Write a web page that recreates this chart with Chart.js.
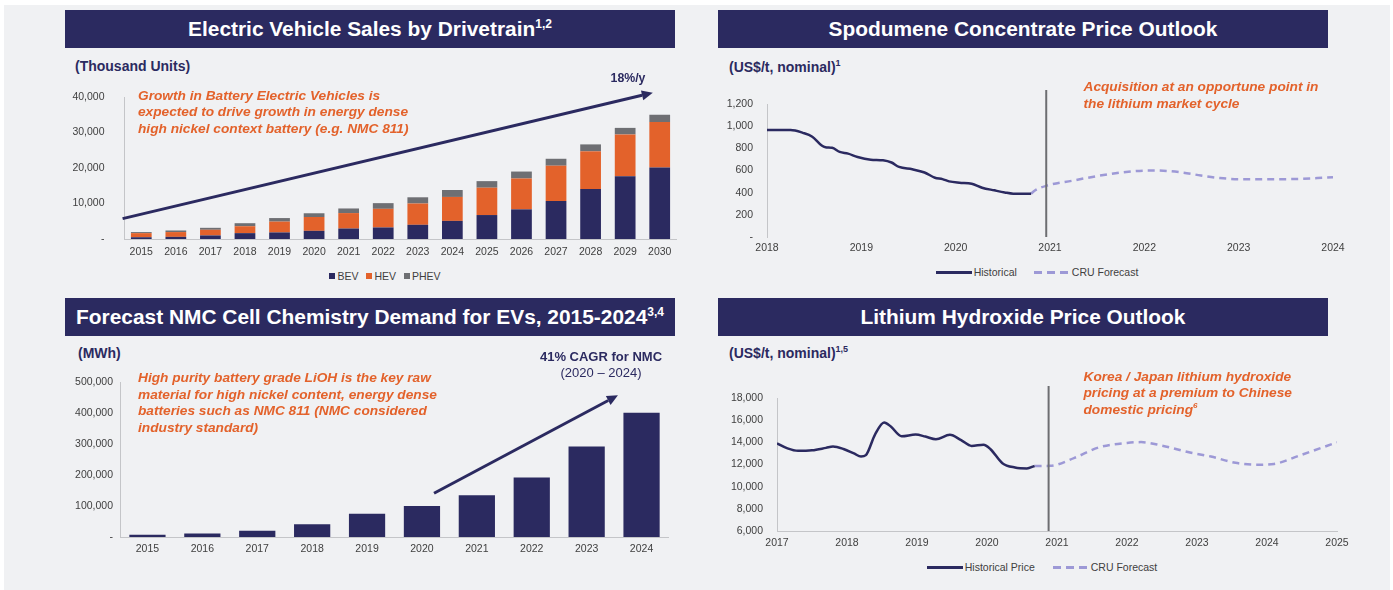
<!DOCTYPE html>
<html>
<head>
<meta charset="utf-8">
<script src="https://cdn.jsdelivr.net/npm/chart.js@4.4.1/dist/chart.umd.min.js"></script>
<style>
  body { margin: 0; width: 1393px; height: 590px; background: #fff; position: relative; overflow: hidden;
         font-family: "Liberation Sans", Arial, sans-serif; }
  #page { position: absolute; left: 4px; top: 5px; width: 1386px; height: 585px; background: #f0f1f3; }
  .bar { position: absolute; width: 610px; height: 38px; line-height: 38px; background: #2b2a60; color: #fff;
         font-weight: bold; font-size: 20.9px; text-align: center; white-space: nowrap; }
  .bar sup { font-size: 12px; line-height: 0; vertical-align: 8px; }
  .unit { position: absolute; font-weight: bold; font-size: 14px; color: #2b2a60; line-height: 16px; white-space: nowrap; }
  .unit sup { font-size: 9px; line-height: 0; vertical-align: 6px; }
  .note { position: absolute; font-weight: bold; font-style: italic; font-size: 13.7px; color: #e3622b;
          line-height: 16.5px; white-space: nowrap; }
  .note sup { font-size: 8px; line-height: 0; vertical-align: 6px; }
  .box { position: absolute; }
  .tag { position: absolute; color: #2b2a60; font-size: 13px; line-height: 16px; text-align: center; white-space: nowrap; }
  .legend { position: absolute; height: 14px; display: flex; align-items: center; justify-content: center;
            font-size: 10.5px; color: #404040; white-space: nowrap; }
  .legend .item { display: flex; align-items: center; }
  .legend .sq { width: 6px; height: 6px; margin-right: 2px; }
  .legend .ln { width: 36px; height: 2.5px; margin-right: 2px; }
</style>
</head>
<body>
<div id="page"></div>

<div class="bar" style="left:65px;top:9.5px">Electric Vehicle Sales by Drivetrain<sup>1,2</sup></div>
<div class="bar" style="left:718px;top:9.5px">Spodumene Concentrate Price Outlook</div>
<div class="bar" style="left:65px;top:297.5px">Forecast NMC Cell Chemistry Demand for EVs, 2015-2024<sup>3,4</sup></div>
<div class="bar" style="left:718px;top:297.5px">Lithium Hydroxide Price Outlook</div>

<div class="box" style="left:65px;top:85px;width:612px;height:178px"><canvas id="evChart"></canvas></div>
<div class="box" style="left:718px;top:90px;width:631px;height:165px"><canvas id="spodChart"></canvas></div>
<div class="box" style="left:65px;top:372px;width:604px;height:187px"><canvas id="nmcChart"></canvas></div>
<div class="box" style="left:718px;top:386px;width:635px;height:164px"><canvas id="liohChart"></canvas></div>

<div class="unit" style="left:75px;top:58px">(Thousand Units)</div>
<div class="unit" style="left:729px;top:58.7px">(US$/t, nominal)<sup>1</sup></div>
<div class="unit" style="left:78px;top:345.3px">(MWh)</div>
<div class="unit" style="left:729px;top:345.3px">(US$/t, nominal)<sup>1,5</sup></div>

<div class="note" style="left:138px;top:87.5px">Growth in Battery Electric Vehicles is<br>expected to drive growth in energy dense<br>high nickel context battery (e.g. NMC 811)</div>
<div class="note" style="left:1083.5px;top:79.4px">Acquisition at an opportune point in<br>the lithium market cycle</div>
<div class="note" style="left:138px;top:370px">High purity battery grade LiOH is the key raw<br>material for high nickel content, energy dense<br>batteries such as NMC 811 (NMC considered<br>industry standard)</div>
<div class="note" style="left:1083.5px;top:368.5px">Korea / Japan lithium hydroxide<br>pricing at a premium to Chinese<br>domestic pricing<sup>6</sup></div>

<div class="tag" style="left:598px;top:69.5px;width:60px;font-weight:bold;font-size:12.3px">18%/y</div>
<div class="tag" style="left:521px;top:348.7px;width:160px"><b>41% CAGR for NMC</b><br>(2020 – 2024)</div>

<div class="legend" id="evLegend" style="left:285px;top:268.5px;width:200px"></div>
<div class="legend" id="spodLegend" style="left:937px;top:265.3px;width:200px"></div>
<div class="legend" id="liohLegend" style="left:942px;top:560.3px;width:200px"></div>

<script>
// EV sales by drivetrain (thousand units)
const evYears = ['2015', '2016', '2017', '2018', '2019', '2020', '2021', '2022',
                 '2023', '2024', '2025', '2026', '2027', '2028', '2029', '2030'];
const evBEV  = [500, 600, 1000, 1650, 1850, 2300, 2950, 3250, 4000, 5100, 6750, 8350, 10700, 14050, 17650, 20150];
const evHEV  = [1150, 1350, 1600, 1950, 3050, 3900, 4350, 5250, 6000, 6750, 7700, 8700, 9950, 10650, 11800, 12800];
const evPHEV = [300, 450, 550, 850, 1000, 1050, 1300, 1600, 1750, 1950, 1850, 1950, 1950, 1950, 1850, 2050];

// NMC demand (MWh)
const nmcYears  = ['2015', '2016', '2017', '2018', '2019', '2020', '2021', '2022', '2023', '2024'];
const nmcDemand = [7000, 11000, 20000, 41000, 75000, 100000, 135000, 192000, 292000, 401000];

// Spodumene concentrate price (US$/t)
const spodHistYears = [2018.0, 2018.25, 2018.38, 2018.48, 2018.58, 2018.62, 2018.69, 2018.77, 2018.86, 2018.96,
                       2019.1, 2019.23, 2019.32, 2019.4, 2019.54, 2019.67, 2019.78, 2019.86, 2019.93, 2020.04,
                       2020.17, 2020.28, 2020.41, 2020.52, 2020.61, 2020.8];
const spodHistPrice = [965, 965, 940, 905, 825, 810, 805, 768, 752, 722,
                       698, 692, 672, 632, 611, 582, 535, 522, 502, 490,
                       481, 445, 421, 402, 391, 391];
const spodFcstYears = [2020.8, 2020.84, 2020.96, 2021.25, 2021.5, 2021.75, 2022.05, 2022.2, 2022.4, 2022.6,
                       2022.8, 2023.0, 2023.5, 2024.0];
const spodFcstPrice = [391, 420, 462, 510, 550, 582, 600, 598, 582, 555, 532, 522, 522, 538];

// Lithium hydroxide price (US$/t)
const liohHistYears = [2017.0, 2017.15, 2017.3, 2017.5, 2017.7, 2017.8, 2017.95, 2018.1, 2018.2, 2018.27,
                       2018.4, 2018.53, 2018.63, 2018.78, 2018.98, 2019.12, 2019.27, 2019.47, 2019.63, 2019.78,
                       2019.95, 2020.05, 2020.22, 2020.4, 2020.57, 2020.68];
const liohHistPrice = [13900, 13450, 13230, 13280, 13500, 13620, 13400, 13000, 12720, 12850,
                       14700, 15800, 15400, 14550, 14700, 14520, 14280, 14680, 14200, 13680,
                       13780, 13380, 12120, 11730, 11650, 11870];
const liohFcstYears = [2020.68, 2020.9, 2021.25, 2021.6, 2022.0, 2022.2, 2022.5, 2022.9, 2023.2, 2023.55,
                       2023.85, 2024.1, 2024.45, 2025.0];
const liohFcstPrice = [11870, 11880, 12600, 13550, 13950, 14020, 13700, 13080, 12720, 12150,
                       11980, 12050, 12780, 14000];

const NAVY = '#2b2a60', ORANGE = '#e3622b', GREY = '#6e6f73', LAVENDER = '#9d99d6', AXIS = '#c4c5c8';

Chart.defaults.font.family = '"Liberation Sans", Arial, sans-serif';
Chart.defaults.font.size = 10.5;
Chart.defaults.color = '#404040';

// fixed axis sizes, and no extra label padding pushed into the layout
const fixWidth = (w) => (s) => { s.width = w; s.paddingTop = 0; s.paddingBottom = 0; };
const fixHeight = (h) => (s) => { s.height = h; s.paddingLeft = 0; s.paddingRight = 0; };
const yLabel = (v) => (v === 0 ? '-' : v.toLocaleString('en-US'));
const toPoints = (xs, ys) => xs.map((x, i) => ({ x: x, y: ys[i] }));

// divider line and growth arrows, placed in data units
const decor = {
  id: 'decor',
  afterDraw(chart, args, opts) {
    const { ctx } = chart;
    const x = chart.scales.x, y = chart.scales.y;
    ctx.save();
    if (opts.vline) {
      const px = x.getPixelForValue(opts.vline.x);
      ctx.strokeStyle = '#6d6e71';
      ctx.lineWidth = 2;
      ctx.beginPath();
      ctx.moveTo(px, y.getPixelForValue(opts.vline.top));
      ctx.lineTo(px, y.bottom);
      ctx.stroke();
    }
    if (opts.arrow) {
      const x1 = x.getPixelForValue(opts.arrow.from[0]), y1 = y.getPixelForValue(opts.arrow.from[1]);
      const x2 = x.getPixelForValue(opts.arrow.to[0]), y2 = y.getPixelForValue(opts.arrow.to[1]);
      const ang = Math.atan2(y2 - y1, x2 - x1);
      const head = 11, hw = 5;
      const bx = x2 - head * Math.cos(ang), by = y2 - head * Math.sin(ang);
      ctx.strokeStyle = NAVY;
      ctx.fillStyle = NAVY;
      ctx.lineWidth = 3;
      ctx.beginPath();
      ctx.moveTo(x1, y1);
      ctx.lineTo(bx, by);
      ctx.stroke();
      ctx.beginPath();
      ctx.moveTo(x2, y2);
      ctx.lineTo(bx + hw * Math.sin(ang), by - hw * Math.cos(ang));
      ctx.lineTo(bx - hw * Math.sin(ang), by + hw * Math.cos(ang));
      ctx.closePath();
      ctx.fill();
    }
    ctx.restore();
  }
};

// legends built from each chart's datasets
function htmlLegend(chart, id, gap) {
  const el = document.getElementById(id);
  el.style.gap = gap + 'px';
  chart.data.datasets.forEach((ds) => {
    const item = document.createElement('div');
    item.className = 'item';
    const sw = document.createElement('span');
    if (chart.config.type === 'bar') {
      sw.className = 'sq';
      sw.style.background = ds.backgroundColor;
    } else {
      sw.className = 'ln';
      sw.style.background = ds.borderDash
        ? `repeating-linear-gradient(to right, ${ds.borderColor} 0 8px, transparent 8px 13px)`
        : ds.borderColor;
    }
    item.appendChild(sw);
    item.appendChild(document.createTextNode(ds.label));
    el.appendChild(item);
  });
}

const noGrid = { display: false, drawTicks: false };

// Chart 1 - EV sales
const evChart = new Chart(document.getElementById('evChart'), {
  type: 'bar',
  data: {
    labels: evYears,
    datasets: [
      { label: 'BEV', data: evBEV, backgroundColor: NAVY },
      { label: 'HEV', data: evHEV, backgroundColor: ORANGE },
      { label: 'PHEV', data: evPHEV, backgroundColor: GREY },
    ],
  },
  options: {
    responsive: true, maintainAspectRatio: false, animation: false,
    datasets: { bar: { categoryPercentage: 0.6, barPercentage: 1 } },
    layout: { padding: { left: 0, right: 0, top: 12, bottom: 0 } },
    scales: {
      x: { stacked: true, grid: noGrid, border: { color: AXIS },
           ticks: { padding: 7, autoSkip: false, maxRotation: 0 }, afterFit: fixHeight(24) },
      y: { stacked: true, min: 0, max: 40000, grid: noGrid, border: { color: AXIS },
           ticks: { stepSize: 10000, padding: 19.5, callback: yLabel }, afterFit: fixWidth(59) },
    },
    plugins: {
      legend: { display: false },
      tooltip: { enabled: false },
      decor: { arrow: { from: [-0.54, 5750], to: [14.8, 41200] } },
    },
  },
  plugins: [decor],
});
htmlLegend(evChart, 'evLegend', 8);

// Chart 2 - spodumene price
const spodChart = new Chart(document.getElementById('spodChart'), {
  type: 'line',
  data: {
    datasets: [
      { label: 'Historical', data: toPoints(spodHistYears, spodHistPrice), borderColor: NAVY,
        borderWidth: 2.5, pointRadius: 0, cubicInterpolationMode: 'monotone' },
      { label: 'CRU Forecast', data: toPoints(spodFcstYears, spodFcstPrice), borderColor: LAVENDER,
        borderWidth: 2.5, borderDash: [7, 5], pointRadius: 0, cubicInterpolationMode: 'monotone' },
    ],
  },
  options: {
    responsive: true, maintainAspectRatio: false, animation: false,
    layout: { padding: { left: 0, right: 16, top: 14, bottom: 0 } },
    scales: {
      x: { type: 'linear', min: 2018, max: 2024, grid: noGrid, border: { display: false },
           ticks: { stepSize: 1, padding: 5, autoSkip: false, maxRotation: 0, callback: (v) => String(v) },
           afterFit: fixHeight(18) },
      y: { min: 0, max: 1200, grid: noGrid, border: { color: AXIS },
           ticks: { stepSize: 200, padding: 14, callback: yLabel }, afterFit: fixWidth(49) },
    },
    plugins: {
      legend: { display: false },
      tooltip: { enabled: false },
      decor: { vline: { x: 2020.96, top: 1470 } },
    },
  },
  plugins: [decor],
});
htmlLegend(spodChart, 'spodLegend', 17);

// Chart 3 - NMC demand
new Chart(document.getElementById('nmcChart'), {
  type: 'bar',
  data: {
    labels: nmcYears,
    datasets: [{ label: 'NMC', data: nmcDemand, backgroundColor: NAVY,
                 categoryPercentage: 0.66, barPercentage: 1 }],
  },
  options: {
    responsive: true, maintainAspectRatio: false, animation: false,
    layout: { padding: { left: 0, right: 0, top: 10, bottom: 0 } },
    scales: {
      x: { grid: noGrid, border: { color: AXIS },
           ticks: { padding: 6, autoSkip: false, maxRotation: 0 }, afterFit: fixHeight(22) },
      y: { min: 0, max: 500000, grid: noGrid, border: { color: AXIS },
           ticks: { stepSize: 100000, padding: 7, callback: yLabel }, afterFit: fixWidth(55) },
    },
    plugins: {
      legend: { display: false },
      tooltip: { enabled: false },
      decor: { arrow: { from: [5.22, 141000], to: [8.57, 457000] } },
    },
  },
  plugins: [decor],
});

// Chart 4 - lithium hydroxide price
const liohChart = new Chart(document.getElementById('liohChart'), {
  type: 'line',
  data: {
    datasets: [
      { label: 'Historical Price', data: toPoints(liohHistYears, liohHistPrice), borderColor: NAVY,
        borderWidth: 2.5, pointRadius: 0, cubicInterpolationMode: 'monotone' },
      { label: 'CRU Forecast', data: toPoints(liohFcstYears, liohFcstPrice), borderColor: LAVENDER,
        borderWidth: 2.5, borderDash: [7, 5], pointRadius: 0, cubicInterpolationMode: 'monotone' },
    ],
  },
  options: {
    responsive: true, maintainAspectRatio: false, animation: false,
    layout: { padding: { left: 0, right: 16, top: 12, bottom: 0 } },
    scales: {
      x: { type: 'linear', min: 2017, max: 2025, grid: noGrid, border: { color: AXIS },
           ticks: { stepSize: 1, padding: 6, autoSkip: false, maxRotation: 0, callback: (v) => String(v) },
           afterFit: fixHeight(19) },
      y: { min: 6000, max: 18000, grid: noGrid, border: { color: AXIS },
           ticks: { stepSize: 2000, padding: 14, callback: yLabel }, afterFit: fixWidth(59) },
    },
    plugins: {
      legend: { display: false },
      tooltip: { enabled: false },
      decor: { vline: { x: 2020.88, top: 20800 } },
    },
  },
  plugins: [decor],
});
htmlLegend(liohChart, 'liohLegend', 18);
</script>
</body>
</html>
